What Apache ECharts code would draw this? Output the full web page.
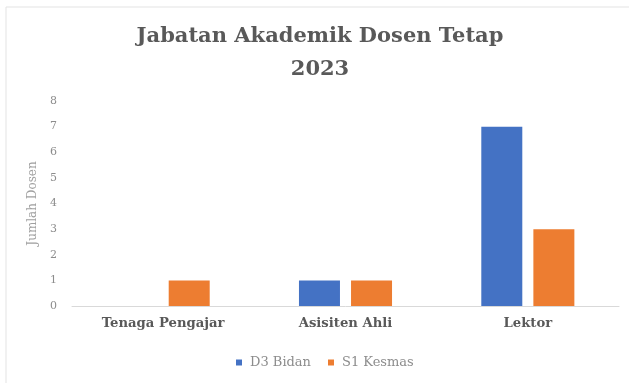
<!DOCTYPE html>
<html>
<head>
<meta charset="utf-8">
<style>
  html, body { margin: 0; padding: 0; background: #ffffff; }
  #chart { width: 629px; height: 383px; }
</style>
<script src="https://cdn.jsdelivr.net/npm/echarts@6/dist/echarts.min.js"></script>
</head>
<body>
<div id="chart"></div>
<script>
// Academic rank of permanent lecturers, per study programme
const categories = ['Tenaga Pengajar', 'Asisiten Ahli', 'Lektor'];
const d3Bidan = [0, 1, 7];
const s1Kesmas = [1, 1, 3];
const seriesNames = ['D3 Bidan', 'S1 Kesmas'];

const serif = '"DejaVu Serif", "Liberation Serif", serif';
const chart = echarts.init(document.getElementById('chart'), null, { renderer: 'canvas' });

chart.setOption({
  backgroundColor: '#ffffff',
  animation: false,
  graphic: [{
    type: 'rect',
    shape: { x: 6, y: 7, width: 640, height: 400 },
    style: { fill: 'none', stroke: '#e3e3e3', lineWidth: 1 },
    silent: true,
    z: -1
  }],
  title: {
    text: 'Jabatan Akademik Dosen Tetap\n2023',
    left: 320,
    textAlign: 'center',
    top: 20,
    padding: 0,
    textStyle: {
      fontFamily: serif,
      fontWeight: 'bold',
      fontSize: 21,
      lineHeight: 33,
      color: '#595959'
    }
  },
  legend: {
    data: seriesNames,
    left: 231,
    top: 351,
    itemWidth: 6,
    itemHeight: 6,
    itemGap: 17,
    icon: 'rect',
    textStyle: { fontFamily: serif, fontSize: 13, color: '#8c8c8c', padding: [0, 0, 0, 3] }
  },
  grid: { left: 72, right: 10, top: 101, bottom: 77 },
  xAxis: {
    type: 'category',
    data: categories,
    axisLine: { lineStyle: { color: '#d9d9d9', width: 1 } },
    axisTick: { show: false },
    axisLabel: {
      margin: 11,
      fontFamily: serif,
      fontWeight: 'bold',
      fontSize: 13.2,
      color: '#595959'
    }
  },
  yAxis: {
    type: 'value',
    min: 0,
    max: 8,
    interval: 1,
    name: 'Jumlah Dosen',
    nameLocation: 'middle',
    nameGap: 32,
    nameTextStyle: { fontFamily: serif, fontSize: 12, color: '#a0a0a0' },
    axisLine: { show: false },
    axisTick: { show: false },
    splitLine: { show: false },
    axisLabel: { margin: 15, fontFamily: serif, fontSize: 11, color: '#8c8c8c' }
  },
  series: [
    {
      name: seriesNames[0],
      type: 'bar',
      data: d3Bidan,
      barWidth: 41,
      barGap: '27%',
      itemStyle: { color: '#4472C4' }
    },
    {
      name: seriesNames[1],
      type: 'bar',
      data: s1Kesmas,
      barWidth: 41,
      barGap: '27%',
      itemStyle: { color: '#ED7D31' }
    }
  ]
});
</script>
</body>
</html>
